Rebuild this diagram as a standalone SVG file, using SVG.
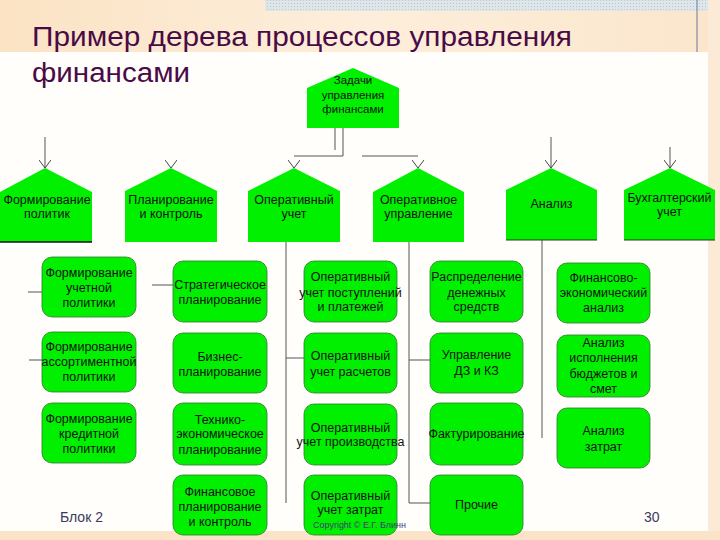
<svg xmlns="http://www.w3.org/2000/svg" width="720" height="540" viewBox="0 0 720 540">
<defs>
<linearGradient id="band" x1="0" y1="0" x2="1" y2="0">
<stop offset="0" stop-color="#fbe3c4"/>
<stop offset="0.5" stop-color="#fdeedb"/>
<stop offset="1" stop-color="#fbe6cc"/>
</linearGradient>
<pattern id="dots" width="3" height="3" patternUnits="userSpaceOnUse">
<rect width="3" height="3" fill="#dfe6ea"/>
<rect width="1" height="1" fill="#b9c6cf"/>
</pattern>
<marker id="v" viewBox="0 0 8 12" refX="8" refY="6" markerWidth="8" markerHeight="12" markerUnits="userSpaceOnUse" orient="auto">
<path d="M0,0 L8,6 L0,12" fill="none" stroke="#444" stroke-width="1"/>
</marker>
<style>
.hn{fill:#00f000;stroke:none}
.rn{fill:#00f000;stroke:#2f7a2f;stroke-width:0.8}
.t{font-family:"Liberation Sans",Arial,sans-serif;font-size:12.5px;fill:#111;text-anchor:middle}
.tr{font-family:"Liberation Sans",Arial,sans-serif;font-size:11.5px;fill:#111;text-anchor:middle}
.c{fill:none;stroke:#555;stroke-width:1}
.g{fill:none;stroke:none}
.ttl{font-family:"Liberation Sans",Arial,sans-serif;font-size:27px;fill:#4a0a46}
.ft{font-family:"Liberation Sans",Arial,sans-serif;font-size:14px;fill:#3a3a5c}
</style>
</defs>

<!-- background -->
<rect x="0" y="0" width="720" height="540" fill="#fffefb"/>
<rect x="0" y="0" width="720" height="52" fill="url(#band)"/>
<rect x="265" y="0" width="455" height="11" fill="url(#dots)"/>
<rect x="708" y="0" width="12" height="540" fill="#fbead5"/>
<rect x="0" y="531" width="720" height="9" fill="#fbe3c8"/>
<line x1="697" y1="0" x2="697" y2="52" stroke="#6a7a9a" stroke-width="1"/>

<!-- title -->
<text class="ttl" x="32" y="46" textLength="540" lengthAdjust="spacingAndGlyphs">Пример дерева процессов управления</text>
<text class="ttl" x="32" y="82" textLength="158" lengthAdjust="spacingAndGlyphs">финансами</text>

<!-- connectors -->
<g id="connectors">
<path class="c" d="M343,128 V156 H294"/>
<line class="c" x1="335" y1="128" x2="335" y2="150"/>
<line class="c" x1="362" y1="156" x2="418" y2="156"/>
<line class="c" x1="45" y1="137" x2="45" y2="168" marker-end="url(#v)"/>
<line class="g" x1="171" y1="160" x2="171" y2="168" marker-end="url(#v)"/>
<line class="g" x1="294" y1="160" x2="294" y2="168" marker-end="url(#v)"/>
<line class="g" x1="418" y1="160" x2="418" y2="168" marker-end="url(#v)"/>
<line class="c" x1="551" y1="137" x2="551" y2="168" marker-end="url(#v)"/>
<line class="c" x1="670" y1="147" x2="670" y2="168" marker-end="url(#v)"/>
<line class="c" x1="28" y1="292" x2="42" y2="292"/>
<line class="c" x1="29" y1="360" x2="42" y2="360"/>
<line class="c" x1="152" y1="285" x2="173" y2="285"/>
<line class="c" x1="286" y1="242" x2="286" y2="503"/>
<line class="c" x1="286" y1="358" x2="304" y2="358"/>
<path class="c" d="M409,242 V503 H430"/>
<line class="c" x1="409" y1="360" x2="430" y2="360"/>
<line class="c" x1="542" y1="240" x2="542" y2="438"/>
</g>

<!-- root -->
<g id="root">
<polygon class="hn" points="307,88 353,68 399,88 399,128 307,128" stroke="#1c5c1c" stroke-width="0.8"/>
<text class="tr" x="353" y="84">Задачи</text>
<text class="tr" x="353" y="99">управления</text>
<text class="tr" x="353" y="113">финансами</text>
</g>

<!-- header nodes -->
<g id="h1">
<polygon class="hn" points="0,192 45,168 92,192 92,242 0,242"/>
<line x1="0" y1="242" x2="92" y2="242" stroke="#111" stroke-width="1.5"/>
<text class="t" x="47" y="204">Формирование</text>
<text class="t" x="47" y="218">политик</text>
</g>
<g id="h2">
<polygon class="hn" points="125,191 171,168 217,191 217,242 125,242"/>
<text class="t" x="171" y="204">Планирование</text>
<text class="t" x="171" y="218">и контроль</text>
</g>
<g id="h3">
<polygon class="hn" points="248,191 294,168 340,191 340,242 248,242"/>
<text class="t" x="294" y="204">Оперативный</text>
<text class="t" x="294" y="218">учет</text>
</g>
<g id="h4">
<polygon class="hn" points="373,192 418,168 464,192 464,242 373,242"/>
<text class="t" x="418.5" y="204">Оперативное</text>
<text class="t" x="418.5" y="218">управление</text>
</g>
<g id="h5">
<polygon class="hn" points="506,190 551,168 597,190 597,240 506,240"/>
<line x1="506" y1="240" x2="597" y2="240" stroke="#333" stroke-width="1"/>
<text class="t" x="551.5" y="208">Анализ</text>
</g>
<g id="h6">
<polygon class="hn" points="624,190 670,168 715,190 715,240 624,240"/>
<line x1="624" y1="240" x2="715" y2="240" stroke="#333" stroke-width="1"/>
<text class="t" x="669.5" y="202">Бухгалтерский</text>
<text class="t" x="669.5" y="216">учет</text>
</g>

<!-- column A -->
<g id="a1">
<rect class="rn" x="42" y="257" width="94" height="60" rx="10"/>
<text class="t" x="89" y="277">Формирование</text>
<text class="t" x="89" y="292">учетной</text>
<text class="t" x="89" y="307">политики</text>
</g>
<g id="a2">
<rect class="rn" x="42" y="332" width="94" height="60" rx="10"/>
<text class="t" x="89" y="351">Формирование</text>
<text class="t" x="89" y="366">ассортиментной</text>
<text class="t" x="89" y="381">политики</text>
</g>
<g id="a3">
<rect class="rn" x="42" y="403" width="94" height="60" rx="10"/>
<text class="t" x="89" y="423">Формирование</text>
<text class="t" x="89" y="438">кредитной</text>
<text class="t" x="89" y="453">политики</text>
</g>

<!-- column B -->
<g id="b1">
<rect class="rn" x="173" y="261" width="94" height="61" rx="10"/>
<text class="t" x="220" y="289">Стратегическое</text>
<text class="t" x="220" y="304">планирование</text>
</g>
<g id="b2">
<rect class="rn" x="173" y="333" width="94" height="60" rx="10"/>
<text class="t" x="220" y="361">Бизнес-</text>
<text class="t" x="220" y="376">планирование</text>
</g>
<g id="b3">
<rect class="rn" x="173" y="403" width="94" height="62" rx="10"/>
<text class="t" x="220" y="424">Технико-</text>
<text class="t" x="220" y="438">экономическое</text>
<text class="t" x="220" y="454">планирование</text>
</g>
<g id="b4">
<rect class="rn" x="173" y="475" width="94" height="60" rx="10"/>
<text class="t" x="220" y="496">Финансовое</text>
<text class="t" x="220" y="511">планирование</text>
<text class="t" x="220" y="526">и контроль</text>
</g>

<!-- column C -->
<g id="c1">
<rect class="rn" x="304" y="261" width="93" height="61" rx="10"/>
<text class="t" x="350.5" y="281">Оперативный</text>
<text class="t" x="350.5" y="297">учет поступлений</text>
<text class="t" x="350.5" y="311">и платежей</text>
</g>
<g id="c2">
<rect class="rn" x="304" y="333" width="93" height="60" rx="10"/>
<text class="t" x="350.5" y="360">Оперативный</text>
<text class="t" x="350.5" y="376">учет расчетов</text>
</g>
<g id="c3">
<rect class="rn" x="304" y="404" width="93" height="61" rx="10"/>
<text class="t" x="350.5" y="432">Оперативный</text>
<text class="t" x="350.5" y="446">учет производства</text>
</g>
<g id="c4">
<rect class="rn" x="304" y="475" width="93" height="60" rx="10"/>
<text class="t" x="350.5" y="500">Оперативный</text>
<text class="t" x="350.5" y="514">учет затрат</text>
</g>

<!-- column D -->
<g id="d1">
<rect class="rn" x="430" y="261" width="93" height="61" rx="10"/>
<text class="t" x="476.5" y="281">Распределение</text>
<text class="t" x="476.5" y="297">денежных</text>
<text class="t" x="476.5" y="311">средств</text>
</g>
<g id="d2">
<rect class="rn" x="430" y="333" width="93" height="60" rx="10"/>
<text class="t" x="476.5" y="359">Управление</text>
<text class="t" x="476.5" y="375">ДЗ и КЗ</text>
</g>
<g id="d3">
<rect class="rn" x="430" y="403" width="93" height="62" rx="10"/>
<text class="t" x="476.5" y="438">Фактурирование</text>
</g>
<g id="d4">
<rect class="rn" x="430" y="475" width="93" height="60" rx="10"/>
<text class="t" x="476.5" y="509">Прочие</text>
</g>

<!-- column E -->
<g id="e1">
<rect class="rn" x="557" y="263" width="93" height="60" rx="10"/>
<text class="t" x="603.5" y="282">Финансово-</text>
<text class="t" x="603.5" y="297">экономический</text>
<text class="t" x="603.5" y="312">анализ</text>
</g>
<g id="e2">
<rect class="rn" x="557" y="335" width="93" height="62" rx="10"/>
<text class="t" x="603.5" y="347">Анализ</text>
<text class="t" x="603.5" y="362">исполнения</text>
<text class="t" x="603.5" y="378">бюджетов и</text>
<text class="t" x="603.5" y="393">смет</text>
</g>
<g id="e3">
<rect class="rn" x="557" y="408" width="93" height="60" rx="10"/>
<text class="t" x="603.5" y="435">Анализ</text>
<text class="t" x="603.5" y="451">затрат</text>
</g>

<!-- footer -->
<text x="313" y="528" font-family="Liberation Sans, Arial, sans-serif" font-size="9" fill="#3c3c70" textLength="93" lengthAdjust="spacingAndGlyphs">Copyright © Е.Г. Блинн</text>
<text class="ft" x="60" y="522">Блок 2</text>
<text class="ft" x="644" y="522" fill="#333">30</text>
</svg>
